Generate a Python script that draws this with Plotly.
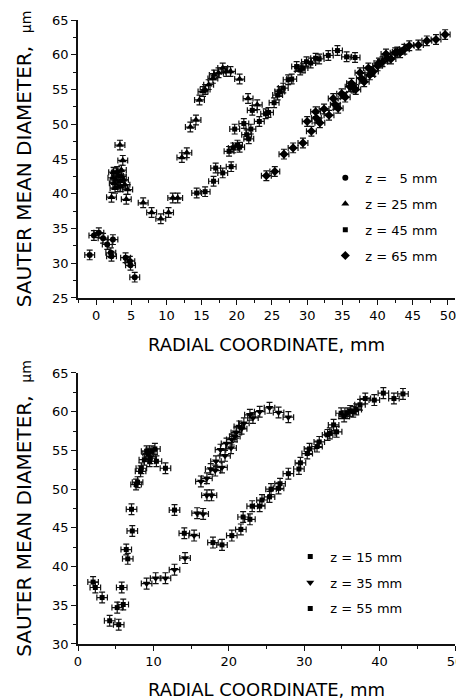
import plotly.graph_objects as go

# ---------------- data: top panel (z = 5, 25, 45, 65 mm) ----------------
Z5_X = [-0.9, -0.3, 0.4, 1.0, 1.6, 2.1, 2.2, 2.4, 4.2, 4.8, 4.9, 5.5]
Z5_Y = [31.2, 34.0, 34.4, 33.6, 32.7, 31.5, 31.0, 33.4, 30.8, 30.3, 29.7, 28.0]

Z25_X = [2.2, 2.4, 2.6, 2.9, 3.1, 3.4, 3.6, 2.8, 3.0, 3.2, 2.7, 3.5, 4.1, 4.5, 4.3,
         3.4, 3.8, 3.6, 2.5, 3.9,
         6.7, 7.9, 9.2, 10.3, 10.9, 11.6, 12.2, 12.9, 13.4, 14.2, 14.7, 15.2, 15.5,
         16.0, 16.6, 16.8, 17.4, 18.0, 18.5, 19.1, 20.4, 21.6, 22.9]
Z25_Y = [39.5, 42.3, 41.5, 43.0, 41.0, 41.8, 42.5, 42.0, 43.2, 42.6, 40.8, 41.0, 41.3, 40.6, 39.2,
         47.0, 44.8, 43.4, 43.1, 42.0,
         38.7, 37.3, 36.4, 37.3, 39.4, 39.4, 45.2, 45.9, 49.6, 50.6, 53.5, 54.7, 55.0,
         55.7, 56.6, 57.1, 57.4, 58.1, 57.6, 57.6, 56.5, 53.7, 52.8]

Z45_X = [14.3, 15.5, 16.7, 17.0, 18.0, 18.9, 19.2, 19.5, 19.7, 20.1, 20.4, 21.0, 21.4, 21.7,
         22.0, 22.2, 23.2, 24.1, 24.5, 25.3, 25.8, 26.1, 26.6, 27.3, 27.8, 28.5, 29.0, 29.4,
         29.9, 30.5, 31.2, 31.7, 33.0, 34.3, 35.6, 36.8]
Z45_Y = [40.1, 40.3, 41.8, 43.7, 43.0, 46.1, 43.9, 46.6, 49.3, 47.0, 46.7, 50.1, 48.5, 47.9,
         49.3, 52.0, 50.4, 51.5, 51.7, 53.1, 54.2, 54.7, 55.2, 56.4, 56.5, 58.3, 57.8, 58.1,
         59.0, 58.8, 59.5, 59.4, 59.9, 60.6, 59.7, 59.6]

Z65_X = [24.2, 25.4, 26.7, 28.0, 29.4, 30.0, 30.6, 31.2, 31.3, 31.8, 32.4, 33.1, 33.7, 34.0,
         34.4, 34.9, 35.4, 36.1, 36.3, 36.6, 36.9, 37.5, 37.7, 38.1, 38.7, 38.9, 39.4, 40.0,
         40.2, 40.7, 41.2, 41.4, 41.9, 42.5, 42.8, 43.2, 43.8, 44.5, 45.8, 47.0, 48.3, 49.6]
Z65_Y = [42.6, 43.2, 45.7, 46.6, 47.3, 50.4, 49.0, 51.8, 50.9, 50.2, 52.2, 51.3, 53.7, 52.8,
         52.3, 54.4, 53.9, 55.4, 55.9, 55.2, 55.0, 57.4, 56.6, 56.1, 58.1, 57.1, 57.6, 58.4,
         58.8, 59.0, 60.1, 59.5, 59.4, 60.3, 60.4, 60.3, 60.8, 61.3, 61.4, 62.0, 62.2, 62.9]

# ---------------- data: bottom panel (z = 15, 35, 55 mm) ----------------
Z15_X = [2.0, 2.3, 3.2, 4.2, 5.4, 5.2, 6.0, 5.8, 6.4, 6.6, 7.2, 7.1, 7.7, 7.9, 8.3, 8.4,
         8.8, 9.1, 9.3, 9.5, 9.6, 9.8, 10.2, 10.4, 11.6, 12.8, 14.1]
Z15_Y = [38.0, 37.3, 36.0, 33.0, 32.5, 34.7, 35.1, 37.3, 42.2, 41.0, 44.6, 47.4, 50.6, 50.9,
         52.3, 52.7, 53.8, 54.9, 54.6, 53.6, 54.0, 54.9, 55.2, 53.6, 52.7, 47.3, 44.3]

Z35_X = [9.1, 10.3, 11.6, 12.8, 14.2, 15.4, 15.8, 16.6, 16.3, 17.1, 17.1, 17.7, 17.6, 18.2,
         18.3, 19.1, 18.9, 19.5, 19.7, 20.3, 20.4, 20.8, 21.0, 21.4, 21.7, 22.0, 22.8, 23.2,
         24.1, 25.4, 26.6, 27.9]
Z35_Y = [37.8, 38.5, 38.5, 39.6, 41.1, 44.0, 46.9, 46.8, 51.0, 51.4, 49.2, 49.2, 52.6, 52.4,
         53.6, 52.8, 55.1, 54.3, 55.9, 55.3, 56.4, 56.8, 57.3, 58.1, 57.8, 58.5, 59.6, 59.2,
         60.0, 60.5, 59.9, 59.3]

Z55_X = [17.9, 19.1, 20.4, 21.6, 21.9, 22.8, 23.1, 24.1, 24.4, 25.4, 25.6, 26.6, 26.8, 27.9,
         29.3, 29.5, 30.4, 30.7, 31.7, 32.0, 33.1, 33.4, 34.3, 33.9, 34.9, 35.3, 35.7, 36.1,
         36.5, 36.9, 37.4, 38.1, 39.3, 40.5, 41.9, 43.1]
Z55_Y = [43.1, 42.8, 44.0, 44.8, 46.4, 46.1, 47.8, 47.8, 48.6, 49.0, 50.0, 50.1, 50.7, 52.0,
         52.6, 53.4, 54.6, 55.2, 55.5, 56.1, 57.0, 57.2, 57.4, 58.3, 59.8, 59.4, 59.8, 60.1,
         60.0, 60.3, 60.9, 61.7, 61.5, 62.4, 61.7, 62.3]

ERR_X = 0.7   # mm
ERR_Y = 0.7   # um

TOP_XTICKS = [0, 5, 10, 15, 20, 25, 30, 35, 40, 45, 50]
TOP_YTICKS = [25, 30, 35, 40, 45, 50, 55, 60, 65]
BOT_XTICKS = [0, 10, 20, 30, 40, 50]
BOT_YTICKS = [30, 35, 40, 45, 50, 55, 60, 65]

FONT = "DejaVu Sans"
INK = "#111111"

fig = go.Figure()


def add(xs, ys, name, symbol, size, xa, ya, legend):
    fig.add_trace(go.Scatter(
        x=xs, y=ys, mode="markers", name=name,
        xaxis=xa, yaxis=ya, legend=legend, legendgroup=name,
        marker=dict(symbol=symbol, size=size, color="black", line=dict(width=0)),
        error_x=dict(type="constant", value=ERR_X, color=INK, thickness=1.2, width=3),
        error_y=dict(type="constant", value=ERR_Y, color=INK, thickness=1.2, width=3),
    ))


add(Z5_X, Z5_Y, "z = \u20075 mm", "circle", 6, "x", "y", "legend")
add(Z25_X, Z25_Y, "z = 25 mm", "triangle-up", 7, "x", "y", "legend")
add(Z45_X, Z45_Y, "z = 45 mm", "square", 5, "x", "y", "legend")
add(Z65_X, Z65_Y, "z = 65 mm", "diamond", 7, "x", "y", "legend")

add(Z15_X, Z15_Y, "z = 15 mm", "square", 5, "x2", "y2", "legend2")
add(Z35_X, Z35_Y, "z = 35 mm", "triangle-down", 7, "x2", "y2", "legend2")
add(Z55_X, Z55_Y, "z = 55 mm", "square", 5, "x2", "y2", "legend2")

axis_common = dict(
    showline=True, linecolor=INK, linewidth=1.5, mirror=False,
    showgrid=False, zeroline=False,
    ticks="outside", ticklen=5, tickwidth=1.2, tickcolor=INK,
    tickfont=dict(family=FONT, size=13, color="black"),
    title_font=dict(family=FONT, size=18, color="black"),
    ticklabeloverflow="allow",
)
ytitle = "SAUTER MEAN DIAMETER,\u00a0 <span style='font-size:14px'>\u03bcm</span>"

fig.update_layout(
    width=456, height=700,
    margin=dict(l=78, r=1, t=20, b=56),
    paper_bgcolor="white", plot_bgcolor="white",
    showlegend=True,
    xaxis=dict(axis_common, domain=[0, 1], anchor="y", range=[-2.56, 51.0],
               tickvals=TOP_XTICKS,
               minor=dict(dtick=2.5, tick0=0, ticks="outside", ticklen=3, tickcolor=INK),
               title=dict(text="RADIAL COORDINATE, mm", standoff=16), automargin=False),
    yaxis=dict(axis_common, domain=[0.5545, 1], anchor="x", range=[25, 65],
               tickvals=TOP_YTICKS,
               minor=dict(dtick=2.5, tick0=0, ticks="outside", ticklen=3, tickcolor=INK),
               title=dict(text=ytitle, font=dict(size=20), standoff=15), automargin=False),
    xaxis2=dict(axis_common, domain=[0, 1], anchor="y2", range=[0, 50],
                tickvals=BOT_XTICKS,
                minor=dict(dtick=5, tick0=0, ticks="outside", ticklen=3, tickcolor=INK),
                title=dict(text="RADIAL COORDINATE, mm", standoff=16), automargin=False),
    yaxis2=dict(axis_common, domain=[0, 0.4343], anchor="x2", range=[30, 65],
                tickvals=BOT_YTICKS,
                minor=dict(dtick=2.5, tick0=0, ticks="outside", ticklen=3, tickcolor=INK),
                title=dict(text=ytitle, font=dict(size=20), standoff=15), automargin=False),
    legend=dict(x=0.656, y=0.771, xanchor="left", yanchor="top",
                font=dict(family=FONT, size=13, color="black"),
                traceorder="grouped", tracegroupgap=6, bgcolor="rgba(0,0,0,0)"),
    legend2=dict(x=0.563, y=0.164, xanchor="left", yanchor="top",
                 font=dict(family=FONT, size=13, color="black"),
                 traceorder="grouped", tracegroupgap=6, bgcolor="rgba(0,0,0,0)"),
)

fig.write_html("out.html",
               config=dict(displayModeBar=False),
               post_script="document.body.style.margin='0';document.body.style.overflow='hidden';")
